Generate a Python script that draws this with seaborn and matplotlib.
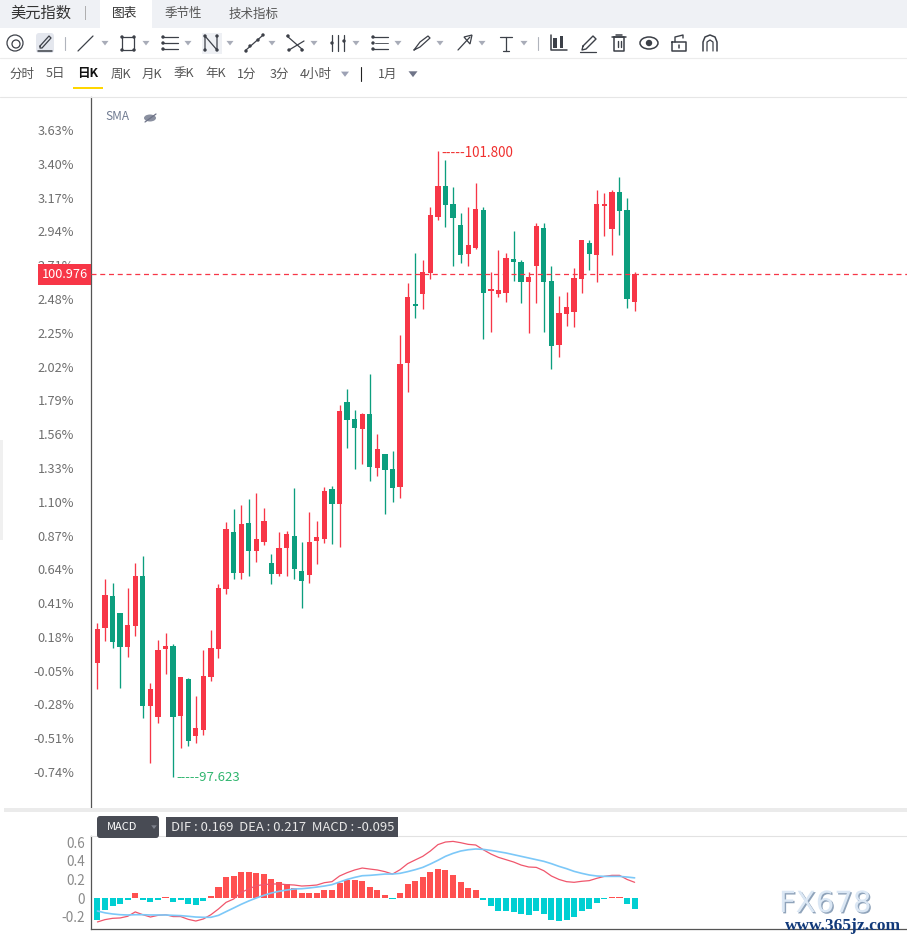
#!/usr/bin/env python3
"""美元指数 日K + MACD 截图复刻"""

import matplotlib
matplotlib.use('Agg')
import matplotlib.pyplot as plt
import matplotlib.patheffects as path_effects
from matplotlib.patches import Rectangle, FancyBboxPatch, Circle, Ellipse, Polygon
import pandas as pd
import seaborn as sns

# ── 数据 ────────────────────────────────────────────────────────────────────
highs = [.272, .574, .547, .342, .513, .683, .730, -.134, .159, .206, .131, -.093, -.100, -.223, .090, .227, .540, .962,
         1.050, 1.078, 1.118, 1.159, 1.057, .744, .894, .901, 1.193, .826, 1.030, .969, 1.200, 1.207, 1.758, 1.867,
         1.724, 1.704, 1.969, 1.561, 1.425, 1.445, 2.235, 2.589, 2.793, 2.745, 3.106, 3.487, 3.426, 3.242, 3.065,
         3.106, 3.270, 3.106, 2.664, 2.813, 2.793, 2.943, 2.745, 2.664, 2.997, 2.997, 2.705, 2.500, 2.528, 2.691,
         2.882, 2.882, 3.222, 3.201, 3.222, 3.310, 3.167, 2.664]
lows = [-.175, .152, .104, -.168, .043, .186, -.372, -.679, -.406, -.073, -.774, -.577, -.563, -.543, -.488, -.121,
        .036, .472, .574, .574, .594, .690, .805, .540, .594, .594, .574, .377, .547, .676, .819, .812, .792, 1.466,
        1.323, 1.357, 1.241, 1.275, 1.017, 1.098, 1.125, 1.847, 2.351, 2.412, 2.616, 3.018, 2.970, 2.705, 2.725,
        2.705, 2.820, 2.208, 2.255, 2.494, 2.460, 2.603, 2.453, 2.249, 2.453, 2.255, 2.004, 2.085, 2.296, 2.289,
        2.521, 2.677, 2.596, 2.909, 2.780, 2.915, 2.418, 2.398]
opens = [.004, .240, .458, .342, .111, .254, .594, -.291, -.366, .097, .118, -.359, -.107, -.495, -.454, -.093, .097,
         .506, .894, .615, .955, .764, .826, .683, .608, .785, .867, .629, .601, .833, .846, 1.187, 1.084, 1.779,
         1.663, 1.595, 1.697, 1.330, 1.425, 1.323, 1.200, 2.044, 2.446, 2.514, 2.657, 3.038, 3.249, 3.127, 2.984,
         2.786, 2.827, 3.086, 2.534, 2.514, 2.521, 2.752, 2.732, 2.596, 2.705, 2.963, 2.603, 2.167, 2.378, 2.391,
         2.616, 2.861, 2.780, 3.113, 2.956, 3.208, 3.086, 2.460]
closes = [.234, .465, .145, .111, .261, .594, -.291, -.175, .090, .118, -.366, -.093, -.529, -.440, -.087, .104, .513,
          .914, .615, .948, .764, .846, .969, .608, .785, .880, .642, .560, .826, .860, 1.173, 1.084, 1.717, 1.656,
          1.602, 1.697, 1.336, 1.459, 1.316, 1.193, 2.037, 2.493, 2.432, 2.664, 3.052, 3.249, 3.120, 3.031, 2.780,
          2.848, 3.093, 2.521, 2.541, 2.541, 2.759, 2.732, 2.596, 2.630, 2.977, 2.596, 2.160, 2.385, 2.425, 2.623,
          2.882, 2.786, 3.127, 3.127, 3.208, 3.079, 2.480, 2.650]

dif = [-.258, -.233, -.219, -.215, -.197, -.15, -.18, -.205, -.187, -.18, -.2, -.2, -.23, -.248, -.226, -.18, -.118,
       -.047, -.011, .061, .097, .133, .144, .151, .151, .144, .14, .129, .133, .14, .165, .176, .237, .273, .302,
       .323, .312, .302, .284, .258, .305, .37, .41, .449, .506, .575, .603, .61, .596, .578, .571, .52, .474, .438,
       .413, .388, .355, .334, .33, .294, .237, .2, .176, .169, .18, .187, .212, .233, .244, .244, .2, .169]
dea = [-.14, -.16, -.172, -.18, -.183, -.18, -.18, -.183, -.183, -.183, -.187, -.19, -.197, -.205, -.208, -.208, -.187,
       -.147, -.108, -.068, -.032, 0, .029, .054, .072, .086, .097, .1, .108, .118, .129, .144, .172, .2, .222, .24,
       .244, .251, .258, .258, .266, .284, .305, .33, .366, .406, .449, .481, .506, .52, .528, .524, .513, .499, .485,
       .467, .449, .431, .413, .395, .37, .341, .316, .287, .266, .248, .237, .233, .233, .233, .226, .217]
macd = [-.233, -.126, -.09, -.06, -.02, .057, -.018, -.04, -.018, .014, -.04, -.02, -.065, -.075, -.03, .025, .122, .23,
        .24, .284, .284, .273, .262, .208, .176, .154, .111, .057, .057, .057, .09, .09, .165, .197, .197, .187, .122,
        .09, .036, -.01, .057, .154, .187, .23, .284, .316, .305, .251, .176, .111, .09, -.018, -.083, -.136, -.136,
        -.147, -.169, -.18, -.136, -.169, -.233, -.244, -.233, -.201, -.136, -.115, -.05, -.012, .014, .014, -.061,
        -.115]

pct_ticks = [3.63, 3.40, 3.17, 2.94, 2.71, 2.48, 2.25, 2.02, 1.79, 1.56, 1.33, 1.10, 0.87, 0.64, 0.41, 0.18, -0.05,
             -0.28, -0.51, -0.74]
macd_ticks = [0.6, 0.4, 0.2, 0, -0.2]
macd_tick_labels = ['0.6', '0.4', '0.2', '0', '-0.2']
last_pct = 2.65      # 100.976
high_idx, high_pct = 45, 3.487
low_idx, low_pct = 10, -0.774

period_labels = ['分时', '5日', '日K', '周K', '月K', '季K', '年K', '1分', '3分', '4小时']
period_x = [22, 55, 88, 121, 152, 184, 216, 247, 279, 316]

RED = '#F73647'
GREEN = '#0C9E7E'
ICON = '#3c4048'
W, H = 907, 942

sns.set_theme(style='white')
plt.rcParams['font.family'] = ['Noto Sans CJK SC', 'DejaVu Sans']
plt.rcParams['axes.unicode_minus'] = False

candles = pd.DataFrame({'idx': range(len(opens)), 'open': opens, 'close': closes, 'high': highs, 'low': lows})
candles['color'] = [RED if c >= o else GREEN for o, c in zip(opens, closes)]
indicator = pd.DataFrame({'idx': range(len(dif)), 'dif': dif, 'dea': dea, 'macd': macd})
indicator['sign'] = ['up' if v >= 0 else 'down' for v in macd]

fig = plt.figure(figsize=(W / 100, H / 100), dpi=100, facecolor='white')


def box(left, top, right, bottom):
    """像素坐标 -> figure 比例"""
    return [left / W, 1 - bottom / H, (right - left) / W, (bottom - top) / H]


XLIM = (-0.85, 107)

# ── K线主图 ──
ax = fig.add_axes(box(91, 97, W, 807))
ax.vlines(candles['idx'], candles['low'], candles['high'], colors=candles['color'], linewidth=0.95, zorder=2)
ax.bar(candles['idx'], (candles['close'] - candles['open']).abs().clip(lower=0.014),
       bottom=candles[['open', 'close']].min(axis=1), width=0.7, color=candles['color'], linewidth=0, zorder=3)
ax.axhline(last_pct, color=RED, linewidth=0.9, dashes=(4, 3), zorder=4)
ax.set_xlim(*XLIM)
ax.set_ylim(-0.978, 3.855)
ax.set_xticks([])
ax.set_yticks(pct_ticks)
ax.set_yticklabels([f'{v:.2f}%' for v in pct_ticks], fontsize=9.2, color='#6e6e6e')
ax.tick_params(axis='y', length=0, pad=12.2)
for name in ['top', 'right', 'bottom']:
    ax.spines[name].set_visible(False)
ax.spines['left'].set_color('#555555')
ax.spines['left'].set_linewidth(0.9)
ax.text(high_idx + 0.45, high_pct - 0.01, '-----101.800', color='#F0302F', fontsize=9.7, va='center')
ax.text(low_idx + 0.45, low_pct, '-----97.623', color='#2FB56E', fontsize=9.5, va='center')

# ── MACD 副图 ──
ax2 = fig.add_axes(box(91, 836, W, 929))
sns.barplot(data=indicator, x='idx', y='macd', hue='sign', palette={'up': '#FF5050', 'down': '#00CFD2'},
            native_scale=True, dodge=False, width=0.8, saturation=1, linewidth=0, legend=False, errorbar=None, ax=ax2)
sns.lineplot(data=indicator, x='idx', y='dif', color='#F0566C', linewidth=0.9, ax=ax2)
sns.lineplot(data=indicator, x='idx', y='dea', color='#7CC8F8', linewidth=1.2, ax=ax2)
ax2.set_xlim(*XLIM)
ax2.set_ylim(-0.334, 0.668)
ax2.set_xlabel('')
ax2.set_ylabel('')
ax2.set_xticks([])
ax2.set_yticks(macd_ticks)
ax2.set_yticklabels(macd_tick_labels, fontsize=9.8, color='#8a8a8a')
ax2.tick_params(axis='y', length=0, pad=4.2)
ax2.spines['right'].set_visible(False)
ax2.spines['top'].set_color('#e2e2e2')
ax2.spines['top'].set_linewidth(0.8)
for name in ['left', 'bottom']:
    ax2.spines[name].set_color('#555555')
    ax2.spines[name].set_linewidth(0.9)

# ── 界面层（像素坐标）──
ui = fig.add_axes([0, 0, 1, 1], zorder=10)
ui.set_xlim(0, W)
ui.set_ylim(H, 0)
ui.axis('off')
ui.patch.set_alpha(0)


def rect(x0, y0, x1, y1, color, **kw):
    ui.add_patch(Rectangle((x0, y0), x1 - x0, y1 - y0, facecolor=color, edgecolor='none', **kw))


def line(xs, ys, color=ICON, lw=1.2):
    ui.plot(xs, ys, color=color, lw=lw, solid_capstyle='round')


def dot(x, y, r=1.7, color=ICON):
    ui.add_patch(Circle((x, y), r, facecolor=color, edgecolor='none'))


def tri(x, y, size=3.5, color='#a8acb8'):
    ui.add_patch(Polygon([(x - size, y - size * 0.6), (x + size, y - size * 0.6), (x, y + size * 0.7)],
                         facecolor=color, edgecolor='none'))


# 顶部标签栏
rect(0, 0, W, 28, '#EFF1F5')
rect(100, 0, 152, 28, 'white')
ui.text(10, 13.5, '美元指数', fontsize=11, color='#333333', va='center')
ui.text(85, 13, '|', fontsize=9, color='#9a9a9a', va='center', ha='center')
ui.text(125, 14, '图表', fontsize=9.2, color='#333333', va='center', ha='center')
ui.text(183, 14, '季节性', fontsize=9, color='#555555', va='center', ha='center')
ui.text(254, 14, '技术指标', fontsize=9, color='#555555', va='center', ha='center')

# 工具栏
y0 = 43
ui.add_patch(Circle((15, y0), 8, fill=False, edgecolor=ICON, lw=0.9))
ui.add_patch(Circle((16, y0 + 1), 4, fill=False, edgecolor=ICON, lw=0.9))
ui.add_patch(FancyBboxPatch((36, 33), 18, 20, boxstyle='round,pad=0,rounding_size=3', facecolor='#E4E7EE',
                            edgecolor='none'))
line([40, 49, 51, 42, 40, 40], [46, 36, 38, 48, 48, 46], lw=0.9)
line([38, 52], [51, 51], lw=1.1)
line([65, 65], [37, 50], '#b0b4bc', 0.8)
line([78, 93], [51, 36], lw=0.9)
line([122, 134, 134, 122, 122], [37, 37, 50, 50, 37], lw=0.9)
for px, py in [(122, 37), (134, 37), (122, 50), (134, 50)]:
    dot(px, py)
for py in [37, 43, 49]:
    line([162, 178], [py, py], lw=0.9)
    dot(163, py)
rect(202, 33, 222, 54, '#EEF0F4')
line([205, 205, 217, 217], [50, 36, 50, 36], lw=0.9)
for px, py in [(205, 50), (205, 36), (217, 50), (217, 36)]:
    dot(px, py)
line([246, 262], [50, 36], lw=0.9)
dot(250, 46)
dot(258, 40)
dot(263, 35)
dot(246, 51)
line([287, 303], [36, 50], lw=0.9)
line([289, 304], [50, 41], lw=0.9)
dot(288, 36)
dot(302, 50)
dot(289, 50)
for px in [332, 338, 344]:
    line([px, px], [35, 51], lw=0.9)
dot(332, 43)
dot(344, 41)
line([373, 388], [37, 37], lw=0.9)
line([373, 388], [49, 49], lw=0.9)
line([375, 388], [43, 43], lw=0.6)
dot(373, 37)
dot(373, 49)
dot(373, 43)
line([414, 420, 428, 430, 420, 414], [50, 42, 36, 38, 47, 50], lw=0.9)
line([458, 470], [50, 37], lw=0.9)
ui.add_patch(Polygon([(472, 35), (464, 37), (470, 44)], fill=False, edgecolor=ICON, lw=0.9))
line([500, 512], [37, 37], lw=0.9)
line([506, 506], [37, 51], lw=0.9)
line([503, 509], [51, 51], lw=0.9)
for x in [105, 146, 188, 230, 272, 314, 356, 398, 440, 482, 524]:
    tri(x, 43)
line([538, 538], [37, 50], '#b0b4bc', 0.8)
# 右侧工具图标
rect(553, 38, 557, 48, ICON)
rect(560, 36, 563, 48, ICON)
line([551, 551, 567], [35, 50, 50], lw=1.1)
line([583, 593, 596, 586, 582, 583], [46, 36, 39, 49, 50, 46], lw=1.0)
line([580, 596], [52, 52], lw=0.9)
line([612, 626], [37, 37], lw=1.1)
line([616, 622], [35, 35], lw=1.1)
line([614, 614, 624, 624, 614], [37, 51, 51, 37, 37], lw=1.1)
line([617.5, 617.5], [41, 47], lw=1.0)
line([620.5, 620.5], [41, 47], lw=1.0)
ui.add_patch(Ellipse((649, 43), 18, 12, fill=False, edgecolor=ICON, lw=1.1))
dot(649, 43, 3.2)
line([672, 672, 686, 686, 672], [42, 51, 51, 42, 42], lw=1.1)
line([675, 675, 683, 683], [42, 37, 35, 38], lw=1.0)
line([679, 679], [45, 48], lw=1.1)
ui.plot([703, 703, 705, 710, 715, 717, 717], [51, 42, 37, 35, 37, 42, 51], color=ICON, lw=1.1)
ui.plot([707, 707, 710, 713, 713], [51, 42, 40, 42, 51], color=ICON, lw=0.9)

# 周期栏
line([0, W], [57.5, 57.5], '#ececec', 0.8)
for label, px in zip(period_labels, period_x):
    is_current = label == '日K'
    ui.text(px, 74, label, fontsize=9, color='#111111' if is_current else '#555555', ha='center', va='center',
            fontweight='bold' if is_current else 'normal')
tri(345, 74, 4, '#9da2b5')
line([361, 361], [67, 81], '#222222', 0.8)
ui.text(388, 74, '1月', fontsize=9, color='#555555', ha='center', va='center')
tri(413, 74, 4.5, '#6f7488')
rect(73, 86.5, 103, 88.5, '#FFD600')
line([0, W], [96.5, 96.5], '#e6e6e6', 0.8)

# SMA 标记
ui.text(105, 117, 'SMA', fontsize=8.5, color='#6f7a90', va='center')
ui.add_patch(Ellipse((150, 118), 12, 7, facecolor='#8a90a0', edgecolor='none'))
line([145, 156], [122, 114], '#6f7488', 0.9)
rect(0, 440, 3, 540, '#f0f0f0')

# 最新价标签
rect(38, 264, 91, 285, RED)
ui.text(64.5, 274.5, '100.976', color='white', fontsize=9.2, ha='center', va='center')

# MACD 头部
rect(4, 808, W, 812, '#ebebeb')
ui.add_patch(FancyBboxPatch((97, 816), 62, 22, boxstyle='round,pad=0,rounding_size=3', facecolor='#484b54',
                            edgecolor='none'))
ui.text(122, 827.5, 'MACD', color='white', fontsize=8, ha='center', va='center')
tri(154, 827, 2.8, '#7d818c')
rect(166, 817, 398, 837, '#484b54')
ui.text(171, 827.5, 'DIF : 0.169  DEA : 0.217  MACD : -0.095', color='#e8e8e8', fontsize=9.4, va='center')

# 水印
mark = ui.text(779, 904, 'FX678', fontsize=21, color='#dbe7f4', family='DejaVu Sans', va='center')
mark.set_path_effects([path_effects.withSimplePatchShadow(offset=(1, -1), shadow_rgbFace='#8fa3ba', alpha=1)])
ui.text(785, 926, 'www.365jz.com', fontsize=12.5, color='#123a7a', family='Liberation Serif', fontweight='bold',
        va='center')

fig.savefig('out.png', dpi=100)
